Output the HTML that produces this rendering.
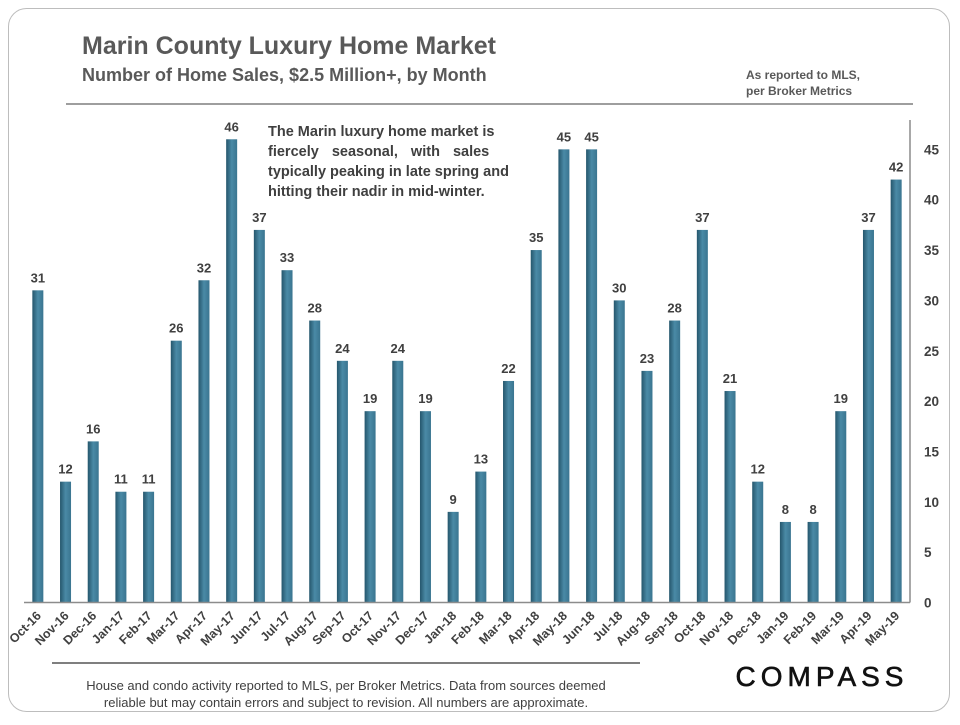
<!DOCTYPE html>
<html><head><meta charset="utf-8"><style>
body{margin:0;width:960px;height:720px;background:#fff;font-family:"Liberation Sans",Arial,sans-serif;overflow:hidden}
</style></head><body>
<svg width="960" height="720">
<defs><linearGradient id="g" x1="0" x2="1"><stop offset="0" stop-color="#25566c"/><stop offset="0.5" stop-color="#4a8aa6"/><stop offset="1" stop-color="#3a7590"/></linearGradient></defs>
<rect x="8.5" y="8.5" width="941" height="703" rx="18" fill="none" stroke="#bdbdbd"/>
<text x="82" y="54" font-size="25" font-weight="bold" fill="#595959">Marin County Luxury Home Market</text>
<text x="82" y="81" font-size="18" font-weight="bold" fill="#595959">Number of Home Sales, $2.5 Million+,  by Month</text>
<text x="746" y="79" font-size="12" font-weight="bold" fill="#595959">As  reported to MLS,</text>
<text x="746" y="95" font-size="12" font-weight="bold" fill="#595959">per Broker Metrics</text>
<line x1="66" y1="104" x2="913" y2="104" stroke="#7f7f7f" stroke-width="1.5"/>
<g font-size="14.5" font-weight="bold" fill="#3f3f3f">
<text x="268" y="136">The Marin luxury home market is</text>
<text x="268" y="156" word-spacing="9">fiercely seasonal, with sales</text>
<text x="268" y="176">typically peaking in late spring and</text>
<text x="268" y="196">hitting their nadir in mid-winter.</text>
</g>
<g id="plot"></g>
<line x1="52" y1="663" x2="640" y2="663" stroke="#7f7f7f" stroke-width="2"/>
<text x="346" y="690" font-size="13" fill="#404040" text-anchor="middle">House and condo activity reported to MLS, per Broker Metrics. Data from sources deemed</text>
<text x="346" y="707" font-size="13" fill="#404040" text-anchor="middle">reliable but may contain errors and subject to revision. All numbers are approximate.</text>
<text x="822" y="686" font-size="28" fill="#111" stroke="#111" stroke-width="0.6" text-anchor="middle" letter-spacing="5">COMPASS</text>
</svg>
<script>
const categories=["Oct-16","Nov-16","Dec-16","Jan-17","Feb-17","Mar-17","Apr-17","May-17","Jun-17","Jul-17","Aug-17","Sep-17","Oct-17","Nov-17","Dec-17","Jan-18","Feb-18","Mar-18","Apr-18","May-18","Jun-18","Jul-18","Aug-18","Sep-18","Oct-18","Nov-18","Dec-18","Jan-19","Feb-19","Mar-19","Apr-19","May-19"];
const sales=[31,12,16,11,11,26,32,46,37,33,28,24,19,24,19,9,13,22,35,45,45,30,23,28,37,21,12,8,8,19,37,42];
const yTicks=[0,5,10,15,20,25,30,35,40,45];
const NS="http://www.w3.org/2000/svg";
const g=document.getElementById('plot');
const L=24,R=910,B=602.5,PX=10.07;
const bw=(R-L)/categories.length;
const x=i=>L+bw*(i+0.5);
const y=v=>B-v*PX;
function mk(t,a){const e=document.createElementNS(NS,t);for(const k in a)e.setAttribute(k,a[k]);g.appendChild(e);return e;}
sales.forEach((v,i)=>{
 const r=mk('rect',{x:x(i)-5.5,y:y(v),width:11,height:B-y(v),fill:'url(#g)'});
 
 
 const t=mk('text',{x:x(i),y:y(v)-8,'font-size':13,'font-weight':'bold',fill:'#404040','text-anchor':'middle'});
 t.textContent=v;
 
 
 const c=mk('text',{x:x(i)+4,y:B+14,'font-size':12.5,'font-weight':'bold',fill:'#404040','text-anchor':'end',transform:`rotate(-45 ${x(i)+4} ${B+14})`});
 c.textContent=categories[i];
 
 
});
const bl=mk('line',{x1:L,y1:B,x2:R,y2:B,stroke:'#8c8c8c','stroke-width':1.5});


const ax=mk('line',{x1:R,y1:120,x2:R,y2:B,stroke:'#8c8c8c','stroke-width':1.5});


yTicks.forEach(v=>{
 const t=mk('text',{x:924,y:y(v)+5,'font-size':13.5,'font-weight':'bold',fill:'#404040'});
 t.textContent=v;
 
 
});
</script>
</body></html>
